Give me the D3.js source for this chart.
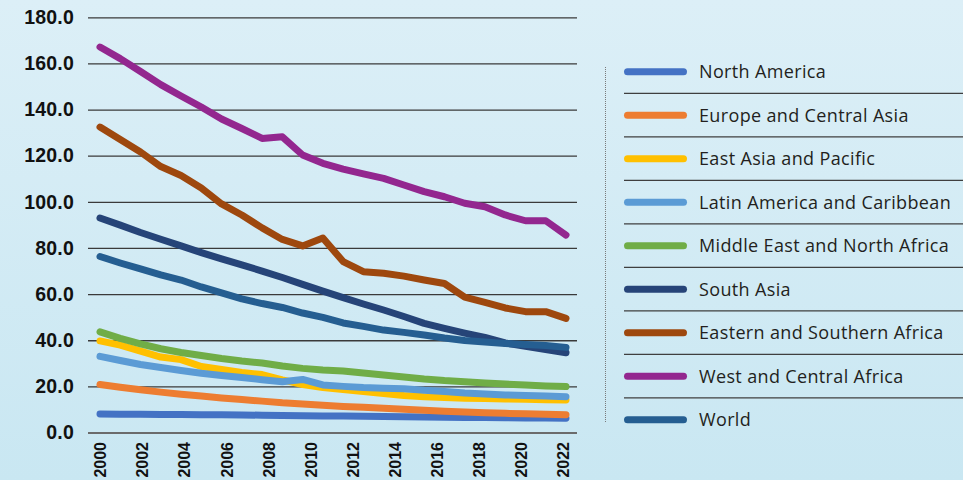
<!DOCTYPE html>
<html>
<head>
<meta charset="utf-8">
<script src="https://cdn.jsdelivr.net/npm/d3@7"></script>
<style>
  body { margin:0; overflow:hidden; }
  svg { display:block; font-family:"Open Sans", sans-serif; }
</style>
</head>
<body>
<svg></svg>
<script>
const WIDTH = 963
const HEIGHT = 480

// data, one value per year 2000..2023
const years = [2000,2001,2002,2003,2004,2005,2006,2007,2008,2009,2010,2011,2012,2013,2014,2015,2016,2017,2018,2019,2020,2021,2022,2023]
const tickLabels = ['2000','2002','2004','2006','2008','2010','2012','2014','2016','2018','2020','2022']
const yTicks = [0,20,40,60,80,100,120,140,160,180]

const northAmerica = [8.0,7.9,7.9,7.8,7.8,7.7,7.7,7.6,7.5,7.4,7.3,7.2,7.1,7.0,6.9,6.8,6.7,6.6,6.5,6.5,6.4,6.3,6.3,6.2]
const europeCentralAsia = [20.8,19.6,18.5,17.5,16.6,15.8,15.0,14.3,13.6,12.9,12.4,11.8,11.3,10.9,10.5,10.1,9.6,9.2,8.9,8.6,8.3,8.1,7.9,7.7]
const eastAsiaPacific = [39.7,37.9,35.3,32.7,31.6,28.6,27.3,26.0,25.1,22.8,20.8,19.5,18.6,17.8,16.9,16.0,15.5,15.2,14.9,14.7,14.5,14.4,14.2,14.1]
const latinAmerica = [33.0,31.2,29.5,28.2,26.9,25.7,24.7,23.8,22.9,22.0,23.0,20.6,20.0,19.5,19.2,19.0,18.3,17.8,17.1,16.7,16.3,16.0,15.8,15.5]
const middleEast = [43.6,40.8,38.4,36.3,34.7,33.4,32.1,31.0,30.1,28.8,27.8,27.1,26.7,25.8,24.9,24.1,23.2,22.5,22.0,21.5,21.0,20.6,20.2,19.9]
const southAsia = [93.0,89.9,86.7,83.8,80.9,78.0,75.3,72.7,70.0,67.2,64.2,61.3,58.5,55.7,53.1,50.3,47.3,45.1,43.1,41.2,38.8,37.4,36.0,34.6]
const eastSouthAfrica = [132.4,127.0,121.6,115.3,111.4,106.0,99.1,94.3,88.7,83.7,80.9,84.3,74.1,69.7,69.0,67.8,66.1,64.6,58.7,56.4,54.0,52.4,52.4,49.5]
const westCentralAfrica = [167.1,162.1,156.5,150.8,145.9,141.1,135.9,131.8,127.5,128.2,120.3,116.7,114.2,112.1,110.2,107.3,104.4,102.2,99.4,97.9,94.3,91.8,91.8,85.6]
const world = [76.3,73.5,70.9,68.3,66.1,63.1,60.5,57.9,55.9,54.2,51.8,49.9,47.5,46.0,44.4,43.4,42.3,41.0,39.9,39.2,38.6,38.1,37.7,36.9]

const series = [
  {name:'North America', color:'#4472c4', values:northAmerica},
  {name:'Europe and Central Asia', color:'#ed7d31', values:europeCentralAsia},
  {name:'East Asia and Pacific', color:'#ffc000', values:eastAsiaPacific},
  {name:'Latin America and Caribbean', color:'#5b9bd5', values:latinAmerica},
  {name:'Middle East and North Africa', color:'#70ad47', values:middleEast},
  {name:'South Asia', color:'#264478', values:southAsia},
  {name:'Eastern and Southern Africa', color:'#9e480e', values:eastSouthAfrica},
  {name:'West and Central Africa', color:'#93278f', values:westCentralAfrica},
  {name:'World', color:'#255e91', values:world}
]

const svg = d3.select('svg')
  .attr('width',WIDTH)
  .attr('height',HEIGHT)

// background
const grad = svg.append('defs').append('linearGradient')
  .attr('id','bg')
  .attr('x1',0).attr('y1',0).attr('x2',0).attr('y2',1)
grad.append('stop').attr('offset','0%').attr('stop-color','#dceff7')
grad.append('stop').attr('offset','100%').attr('stop-color','#c9e7f2')
svg.append('rect')
  .attr('width',WIDTH)
  .attr('height',HEIGHT)
  .attr('fill','url(#bg)')

const PLOT_LEFT = 88
const PLOT_RIGHT = 577

const x = d3.scaleLinear()
  .domain([years[0],years[years.length-1]])
  .range([100,566])
const xLabels = d3.scalePoint()
  .domain(tickLabels)
  .range([100,563])
const y = d3.scaleLinear()
  .domain([0,180])
  .range([432.5,17.3])

// y axis with gridlines
const yAxis = svg.append('g')
  .attr('transform',`translate(${PLOT_LEFT},0)`)
  .call(d3.axisLeft(y)
    .tickValues(yTicks)
    .tickFormat(d3.format('.1f'))
    .tickSize(-(PLOT_RIGHT-PLOT_LEFT))
    .tickPadding(14))
yAxis.select('.domain').remove()
yAxis.selectAll('line')
  .attr('stroke',d => d == 0 ? '#6b6b6b' : '#3a3a3a')
  .attr('stroke-width',d => d == 0 ? 2 : 1.3)
yAxis.selectAll('text')
  .attr('fill','#111')
  .attr('font-size',19.5)
  .attr('font-weight',700)
  .attr('letter-spacing','0.2px')

// x axis labels (rotated)
const xAxis = svg.append('g')
  .attr('transform','translate(0,442)')
  .call(d3.axisBottom(xLabels).tickSize(0).tickPadding(0))
xAxis.select('.domain').remove()
xAxis.selectAll('text')
  .attr('fill','#111')
  .attr('font-size',16)
  .attr('font-weight',700)
  .attr('text-anchor','end')
  .attr('transform','rotate(-90)')
  .attr('x',0)
  .attr('y',0)
  .attr('dy','0.36em')

// lines
const line = d3.line()
  .x((d,i) => x(years[i]))
  .y(d => y(d))

svg.append('g')
  .selectAll('path')
  .data(series)
  .enter().append('path')
  .attr('d',d => line(d.values))
  .attr('fill','none')
  .attr('stroke',d => d.color)
  .attr('stroke-width',7)
  .attr('stroke-linecap','round')
  .attr('stroke-linejoin','round')

// legend
const LEGEND_TOP = 71.7
const ROW = 43.5
const legend = svg.append('g')

legend.append('line')
  .attr('x1',605.5).attr('x2',605.5)
  .attr('y1',67).attr('y2',423)
  .attr('stroke','#7a7a7a')
  .attr('stroke-width',1)
  .attr('stroke-dasharray','1,1')

legend.selectAll('.sep')
  .data(series.slice(1))
  .enter().append('line')
  .attr('class','sep')
  .attr('x1',624).attr('x2',WIDTH)
  .attr('y1',(d,i) => LEGEND_TOP+ROW*i+ROW/2)
  .attr('y2',(d,i) => LEGEND_TOP+ROW*i+ROW/2)
  .attr('stroke','#3f3f3f')
  .attr('stroke-width',1.2)

const rows = legend.selectAll('.row')
  .data(series)
  .enter().append('g')
  .attr('class','row')
  .attr('transform',(d,i) => `translate(0,${LEGEND_TOP+ROW*i})`)

rows.append('line')
  .attr('x1',627.5).attr('x2',683.5)
  .attr('stroke',d => d.color)
  .attr('stroke-width',7)
  .attr('stroke-linecap','round')

rows.append('text')
  .attr('x',699)
  .attr('dy','0.35em')
  .attr('font-size',18)
  .attr('letter-spacing','0.35px')
  .attr('fill','#231f20')
  .text(d => d.name)
</script>
</body>
</html>
